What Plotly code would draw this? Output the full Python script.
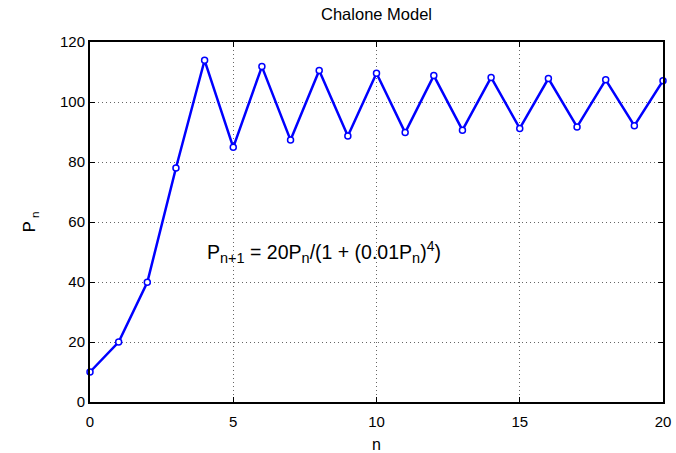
import plotly.graph_objects as go

n_vals = list(range(21))
p_vals = [10, 20, 39.9, 78.0, 113.9, 84.9, 111.8, 87.3, 110.5, 88.7, 109.6,
          89.8, 108.8, 90.6, 108.2, 91.2, 107.8, 91.7, 107.4, 92.1, 107.1]
x_ticks = [0, 5, 10, 15, 20]
y_ticks = [0, 20, 40, 60, 80, 100, 120]

FONT = "Liberation Sans, Arial, Helvetica, sans-serif"

fig = go.Figure()
fig.add_trace(go.Scatter(
    x=n_vals, y=p_vals, mode="lines+markers",
    line=dict(color="#0000ff", width=2.5),
    marker=dict(symbol="circle", size=6, color="white",
                line=dict(color="#0000ff", width=1.5)),
    showlegend=False, cliponaxis=False,
))

axis_common = dict(
    showline=True, linecolor="black", linewidth=2, mirror="ticks",
    ticks="inside", ticklen=5, tickwidth=1, tickcolor="black",
    showgrid=True, gridcolor="#666666", gridwidth=1, griddash="1px,3px",
    zeroline=False, tickfont=dict(family=FONT, size=15, color="black"),
)

fig.update_layout(
    width=676, height=453,
    margin=dict(l=90, r=13, t=42, b=51, autoexpand=False),
    paper_bgcolor="white", plot_bgcolor="white",
    font=dict(family=FONT, size=15, color="black"),
    title=dict(text="Chalone Model", x=0.557, xanchor="center",
               y=0.968, yanchor="middle", font=dict(family=FONT, size=16.5)),
    xaxis=dict(range=[0, 20], tickvals=x_ticks, ticktext=[str(v) for v in x_ticks],
               ticklabelstandoff=5,
               title=dict(text="n", standoff=12, font=dict(family=FONT, size=16)),
               **axis_common),
    yaxis=dict(range=[0, 120], tickvals=y_ticks, ticktext=[str(v) for v in y_ticks],
               title=dict(text="P<sub> n</sub>", standoff=20, font=dict(family=FONT, size=16.5)),
               **axis_common),
)

SUB = "<sub><span style='font-size:14.5px'>{}</span></sub>"
SUP = "<sup><span style='font-size:14px'>{}</span></sup>"
fig.add_annotation(
    x=4, y=50, xref="x", yref="y", xanchor="left", yanchor="middle",
    text=("P" + SUB.format("n+1") + " = 20P" + SUB.format("n") + "/(1 + (0.01P"
          + SUB.format("n") + ")" + SUP.format("4") + ")"),
    showarrow=False, font=dict(family=FONT, size=19.5, color="black"),
)

fig.write_html("out.html", config={"displayModeBar": False},
               post_script="document.body.style.margin='0';")
